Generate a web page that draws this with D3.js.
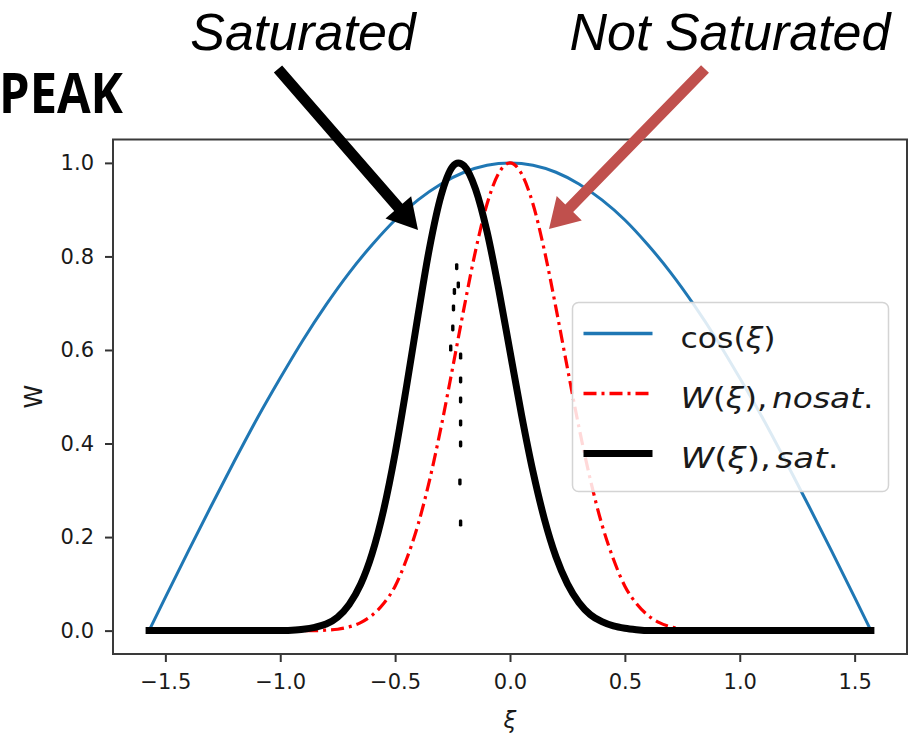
<!DOCTYPE html>
<html>
<head>
<meta charset="utf-8">
<script src="https://cdn.jsdelivr.net/npm/d3@7"></script>
<style>
  html, body { margin: 0; padding: 0; background: #fff; }
  svg { display: block; }
</style>
</head>
<body>
<svg id="chart" width="915" height="733"></svg>
<script>
// ---------------- DATA ----------------
const xTicks = [-1.5, -1.0, -0.5, 0.0, 0.5, 1.0, 1.5];
const yTicks = [0.0, 0.2, 0.4, 0.6, 0.8, 1.0];

// cos(xi)
const xiCos  = [-1.5708,-1.5,-1.4,-1.3,-1.2,-1.1,-1.0,-0.9,-0.8,-0.7,-0.6,-0.5,-0.4,-0.3,-0.2,-0.1,0.0,
                 0.1,0.2,0.3,0.4,0.5,0.6,0.7,0.8,0.9,1.0,1.1,1.2,1.3,1.4,1.5,1.5708];
const cosVals = [0.000,0.071,0.170,0.267,0.362,0.454,0.540,0.622,0.697,0.765,0.825,0.878,0.921,0.955,0.980,0.995,1.000,
                 0.995,0.980,0.955,0.921,0.878,0.825,0.765,0.697,0.622,0.540,0.454,0.362,0.267,0.170,0.071,0.000];

// W(xi), no saturation
const xiNosat = [-1.5708,-0.85,-0.80,-0.75,-0.70,-0.65,-0.60,-0.55,-0.50,-0.45,-0.40,-0.35,-0.30,-0.25,-0.20,-0.15,-0.10,-0.05,0.0,
                  0.05,0.10,0.15,0.20,0.25,0.30,0.35,0.40,0.45,0.50,0.55,0.60,0.65,0.70,0.75,0.80,0.85,1.5708];
const nosatVals = [0,0,0.001,0.003,0.008,0.017,0.033,0.058,0.095,0.153,0.227,0.322,0.435,0.561,0.690,0.812,0.912,0.977,1.000,
                   0.977,0.912,0.812,0.690,0.561,0.435,0.322,0.227,0.153,0.095,0.058,0.033,0.017,0.008,0.003,0.001,0,0];

// W(xi), saturated
const xiSat = [-1.5708,-1.0,-0.95,-0.90,-0.85,-0.80,-0.75,-0.70,-0.65,-0.60,-0.55,-0.50,-0.45,-0.40,-0.35,-0.30,-0.25,-0.225,
                -0.20,-0.15,-0.10,-0.05,0.0,0.05,0.10,0.15,0.20,0.25,0.30,0.35,0.40,0.45,0.50,0.55,0.60,1.5708];
const satVals = [0,0,0.001,0.003,0.007,0.014,0.029,0.056,0.099,0.165,0.258,0.379,0.523,0.675,0.819,0.930,0.992,1.000,
                 0.994,0.944,0.853,0.732,0.597,0.462,0.340,0.238,0.158,0.100,0.060,0.034,0.019,0.010,0.005,0.002,0,0];

// stray points of the saturated curve
const strayXi  = [-0.232,-0.225,-0.242,-0.246,-0.249,-0.258,-0.215,-0.215,-0.215,-0.215,-0.215,-0.218,-0.215];
const strayVal = [0.778,0.739,0.725,0.690,0.647,0.604,0.587,0.536,0.493,0.444,0.399,0.318,0.230];

const legendLabels = ["cos", "nosat.", "sat."];

// ---------------- CHART ----------------
const svg = d3.select("#chart");
const plot = {left: 113, right: 907, top: 139.5, bottom: 654};

const x = d3.scaleLinear().domain([-1.7279, 1.7279]).range([plot.left, plot.right]);
const y = d3.scaleLinear().domain([-0.05, 1.05]).range([plot.bottom, plot.top]);

const fmt = d => (d < 0 ? "\u2212" : "") + Math.abs(d).toFixed(1);

// axes
const xAxis = svg.append("g")
  .attr("transform", `translate(0,${plot.bottom})`)
  .call(d3.axisBottom(x).tickValues(xTicks).tickFormat(fmt).tickSize(8).tickPadding(12));
const yAxis = svg.append("g")
  .attr("transform", `translate(${plot.left},0)`)
  .call(d3.axisLeft(y).tickValues(yTicks).tickFormat(fmt).tickSize(8).tickPadding(11));
[xAxis, yAxis].forEach(g => {
  g.select(".domain").remove();
  g.selectAll(".tick line").attr("stroke", "#333").attr("stroke-width", 2);
  g.selectAll(".tick text").attr("fill", "#1a1a1a")
    .style("font-family", "'DejaVu Sans', sans-serif").style("font-size", "21px");
});

// frame
svg.append("rect")
  .attr("x", plot.left).attr("y", plot.top)
  .attr("width", plot.right - plot.left).attr("height", plot.bottom - plot.top)
  .attr("fill", "none").attr("stroke", "#3a3a3a").attr("stroke-width", 2);

// axis labels
svg.append("text")
  .attr("x", x(0)).attr("y", 728)
  .attr("text-anchor", "middle")
  .style("font-family", "'DejaVu Sans', sans-serif").style("font-size", "23px").style("font-style", "italic")
  .attr("fill", "#1a1a1a")
  .text("\u03be");
svg.append("text")
  .attr("transform", `translate(42,${y(0.5)}) rotate(-90)`)
  .attr("text-anchor", "middle")
  .style("font-family", "'DejaVu Sans', sans-serif").style("font-size", "24px")
  .attr("fill", "#1a1a1a")
  .text("W");

// lines
const line = d3.line().x(d => x(d[0])).y(d => y(d[1])).curve(d3.curveMonotoneX);
const cosData = xiCos.map((v, i) => [v, cosVals[i]]);
const nosatData = xiNosat.map((v, i) => [v, nosatVals[i]]);
const satData = xiSat.map((v, i) => [v, satVals[i]]);

svg.append("path").datum(cosData).attr("d", line)
  .attr("fill", "none").attr("stroke", "#1f77b4").attr("stroke-width", 3).attr("stroke-linecap", "square");
svg.append("path").datum(nosatData).attr("d", line)
  .attr("fill", "none").attr("stroke", "#ff0000").attr("stroke-width", 3.2)
  .attr("stroke-dasharray", "13,5,3,5");
svg.append("path").datum(satData).attr("d", line)
  .attr("fill", "none").attr("stroke", "#000").attr("stroke-width", 7).attr("stroke-linecap", "square")
  .attr("stroke-linejoin", "round");

// stray marks
svg.append("g").selectAll("rect").data(strayXi.map((v, i) => [v, strayVal[i]])).join("rect")
  .attr("x", d => x(d[0]) - 1.7).attr("y", d => y(d[1]) - 3.5)
  .attr("width", 3.4).attr("height", 7).attr("rx", 1.4).attr("fill", "#000");

// legend
const lg = svg.append("g").attr("transform", "translate(572.5,302.5)");
lg.append("rect").attr("width", 316).attr("height", 189).attr("rx", 6)
  .attr("fill", "#fff").attr("fill-opacity", 0.85).attr("stroke", "#d4d4d4").attr("stroke-width", 1.5);
const rows = [
  {label: legendLabels[0], color: "#1f77b4", w: 3.5, dash: null, yy: 31, len: 95},
  {label: legendLabels[1], color: "#ff0000", w: 3.5, dash: "13,5,3,5", yy: 91, len: 193},
  {label: legendLabels[2], color: "#000", w: 7, dash: null, yy: 151, len: 158}
];
rows.forEach(r => {
  lg.append("line").attr("x1", 11).attr("x2", 80).attr("y1", r.yy).attr("y2", r.yy)
    .attr("stroke", r.color).attr("stroke-width", r.w)
    .attr("stroke-dasharray", r.dash);
  const t = lg.append("text").attr("x", 108).attr("y", r.yy + 14)
    .attr("textLength", r.len).attr("lengthAdjust", "spacingAndGlyphs")
    .style("font-family", "'DejaVu Sans', sans-serif").style("font-size", "29px").attr("fill", "#1a1a1a");
  if (r.label === "cos") {
    t.append("tspan").text("cos(");
    t.append("tspan").style("font-style", "italic").text("\u03be");
    t.append("tspan").text(")");
  } else {
    t.append("tspan").style("font-style", "italic").text("W");
    t.append("tspan").text("(");
    t.append("tspan").style("font-style", "italic").text("\u03be");
    t.append("tspan").text("),");
    t.append("tspan").style("font-style", "italic").attr("dx", 4).text(r.label.slice(0, -1));
    t.append("tspan").text(".");
  }
});

// annotations
function arrow(x0, y0, x1, y1, shaft, headLen, headW, color) {
  const dx = x1 - x0, dy = y1 - y0, L = Math.hypot(dx, dy);
  const ux = dx / L, uy = dy / L, px = -uy, py = ux;
  const bx = x1 - ux * headLen, by = y1 - uy * headLen;
  const pts = [
    [x0 + px * shaft / 2, y0 + py * shaft / 2],
    [bx + px * shaft / 2, by + py * shaft / 2],
    [bx + px * headW / 2, by + py * headW / 2],
    [x1, y1],
    [bx - px * headW / 2, by - py * headW / 2],
    [bx - px * shaft / 2, by - py * shaft / 2],
    [x0 - px * shaft / 2, y0 - py * shaft / 2]
  ];
  svg.append("polygon").attr("points", pts.map(p => p.join(",")).join(" ")).attr("fill", color);
}
arrow(278, 69, 418, 230, 11, 30, 34, "#000");
arrow(705, 69, 549, 229, 11, 29, 35, "#c0504d");

const annFont = "'Liberation Sans', Arial, sans-serif";
svg.append("text").attr("x", 303).attr("y", 50).attr("text-anchor", "middle")
  .style("font-family", annFont).style("font-style", "italic").style("font-size", "52px").attr("fill", "#000")
  .text("Saturated");
svg.append("text").attr("x", 730).attr("y", 50).attr("text-anchor", "middle")
  .style("font-family", annFont).style("font-style", "italic").style("font-size", "52px").attr("fill", "#000")
  .text("Not Saturated");
svg.append("text").attr("x", -1).attr("y", 113)
  .style("font-family", "'Open Sans', Lato, sans-serif").style("font-weight", "bold").style("font-size", "56px")
  .attr("textLength", 124).attr("lengthAdjust", "spacingAndGlyphs").attr("fill", "#000")
  .text("PEAK");
</script>
</body>
</html>
